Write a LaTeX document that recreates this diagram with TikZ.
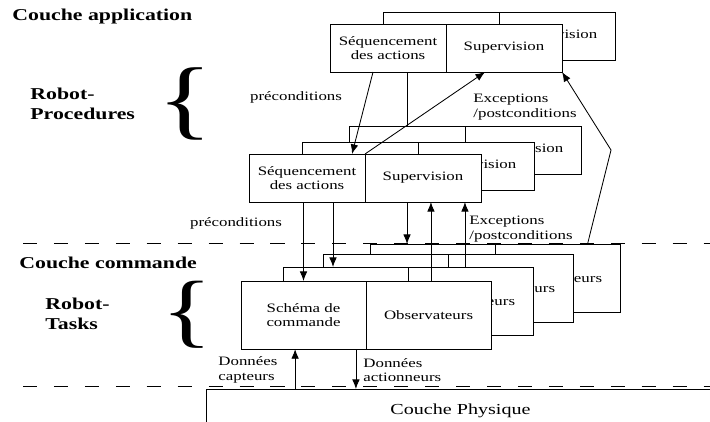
\documentclass[tikz,border=0pt]{standalone}
\usepackage{fontspec}
\setmainfont{Liberation Serif}
\usetikzlibrary{arrows.meta}

\tikzset{
  squash/.style={yscale=0.76, transform shape},
  cell/.style={draw, fill=white, squash, outer sep=0pt, inner sep=1pt, align=center,
    font=\fontsize{12}{13.5}\selectfont, anchor=north west},
  upper/.style={cell, minimum width=2.9cm, minimum height=1.58cm},
  lower/.style={cell, minimum width=3.125cm, minimum height=2.24cm},
  lbl/.style={squash, inner sep=0pt, align=left, font=\fontsize{12}{13.5}\selectfont},
  layer/.style={squash, inner sep=0pt, align=left, font=\fontsize{15.5}{18.7}\selectfont\bfseries},
  brace/.style={squash, inner sep=0pt, font=\fontsize{82}{82}\selectfont},
  sep/.style={dash pattern=on 10pt off 12pt, line width=0.6pt},
}

\begin{document}
\begin{tikzpicture}[x=0.025cm, y=-0.025cm, line width=0.6pt, >={Latex[length=2.4mm,width=1.9mm]}]
\useasboundingbox (0,0) rectangle (710,421);
\clip (0,0) rectangle (710,421);
% limits of the layers
\draw [sep] (23,243) -- (710,243);
\draw [sep] (23,386) -- (710,386);

% names on the left
\node [layer, anchor=west] (app) at (12,17) {Couche application};
\node [layer, anchor=west] (proc) at (30,104) {Robot-\\Procedures};
\node [brace] (procbrace) at (185,104) {\{};
\node [layer, anchor=west] (cmd) at (19,263) {Couche commande};
\node [layer, anchor=west] (tasks) at (45,314) {Robot-\\Tasks};
\node [brace, font=\fontsize{76}{76}\selectfont] (tasksbrace) at (187,315) {\{};

% Robot-Procedures
\node [upper] (tseq1) at (383,12) {};
\node [upper] (tsup1) at (tseq1.north east) {Supervision};
\node [upper] (tseq2) at (330,24) {Séquencement\\des actions};
\node [upper] (tsup2) at (tseq2.north east) {Supervision};

\node [upper] (mseq1) at (349,126) {};
\node [upper] (msup1) at (mseq1.north east) {Supervision};
\node [upper] (mseq2) at (302,142) {};
\node [upper] (msup2) at (mseq2.north east) {Supervision};
\node [upper] (mseq3) at (249,154) {Séquencement\\des actions};
\node [upper] (msup3) at (mseq3.north east) {Supervision};

% Robot-Tasks
\node [lower] (bsch1) at (370,244) {};
\node [lower] (bobs1) at (bsch1.north east) {Observateurs};
\node [lower] (bsch2) at (323,254) {};
\node [lower] (bobs2) at (bsch2.north east) {Observateurs};
\node [lower] (bsch3) at (283,267) {};
\node [lower] (bobs3) at (bsch3.north east) {Observateurs};
\node [lower] (bsch4) at (241,281) {Schéma de\\commande};
\node [lower] (bobs4) at (bsch4.north east) {Observateurs};

\node [squash, draw, anchor=north west, minimum width=12.7cm, minimum height=1.4cm, inner sep=0pt,
  font=\fontsize{14.3}{16}\selectfont] (phys) at (206,389) {Couche Physique};

% application -> procedures
\draw [->] ([xshift=-0.375cm]tseq2.south) -- ([xshift=1.125cm]mseq3.north);
\draw (mseq1.north |- tseq2.south) -- (mseq1.north);
\draw [->] (mseq3.north east) -- ([xshift=-0.475cm]tsup2.south);
\coordinate (bend) at (611,150);
\draw [->] ([xshift=0.75cm]bobs1.north) -- (bend) -- (tsup2.south east);
\node [lbl] (preA) at (296,97) {préconditions};
\node [lbl, anchor=west] (excA) at (473,107) {Exceptions\\/postconditions};

% procedures -> tasks
\coordinate (seqdown) at ([xshift=0.65cm]mseq3.south);
\coordinate (supdown) at ([xshift=-0.4cm]msup3.south);
\coordinate (obsup1) at ([xshift=0.06cm]bobs4.north);
\coordinate (obsup2) at ([xshift=-0.14cm]bobs3.north);
\draw [->] (bsch4.north |- mseq3.south) -- (bsch4.north);
\draw [->] (seqdown) -- (seqdown |- bsch3.north);
\draw [->] (supdown) -- (supdown |- bsch1.north);
\draw [->] (obsup1) -- (obsup1 |- msup3.south);
\draw [->] (obsup2) -- (obsup2 |- msup3.south);
\node [lbl] (preB) at (236,223) {préconditions};
\node [lbl, anchor=west] (excB) at (469,229) {Exceptions\\/postconditions};

% tasks <-> physique
\coordinate (captx) at ([xshift=-0.21cm]bsch4.south);
\coordinate (actx) at ([xshift=1.31cm]bsch4.south);
\draw [->] (captx |- phys.north) -- (captx);
\draw [->] (actx) -- (actx |- phys.north);
\node [lbl, anchor=west] (capt) at (218,370) {Données\\capteurs};
\node [lbl, anchor=west] (act) at (363,370) {Données\\actionneurs};
\end{tikzpicture}
\end{document}
